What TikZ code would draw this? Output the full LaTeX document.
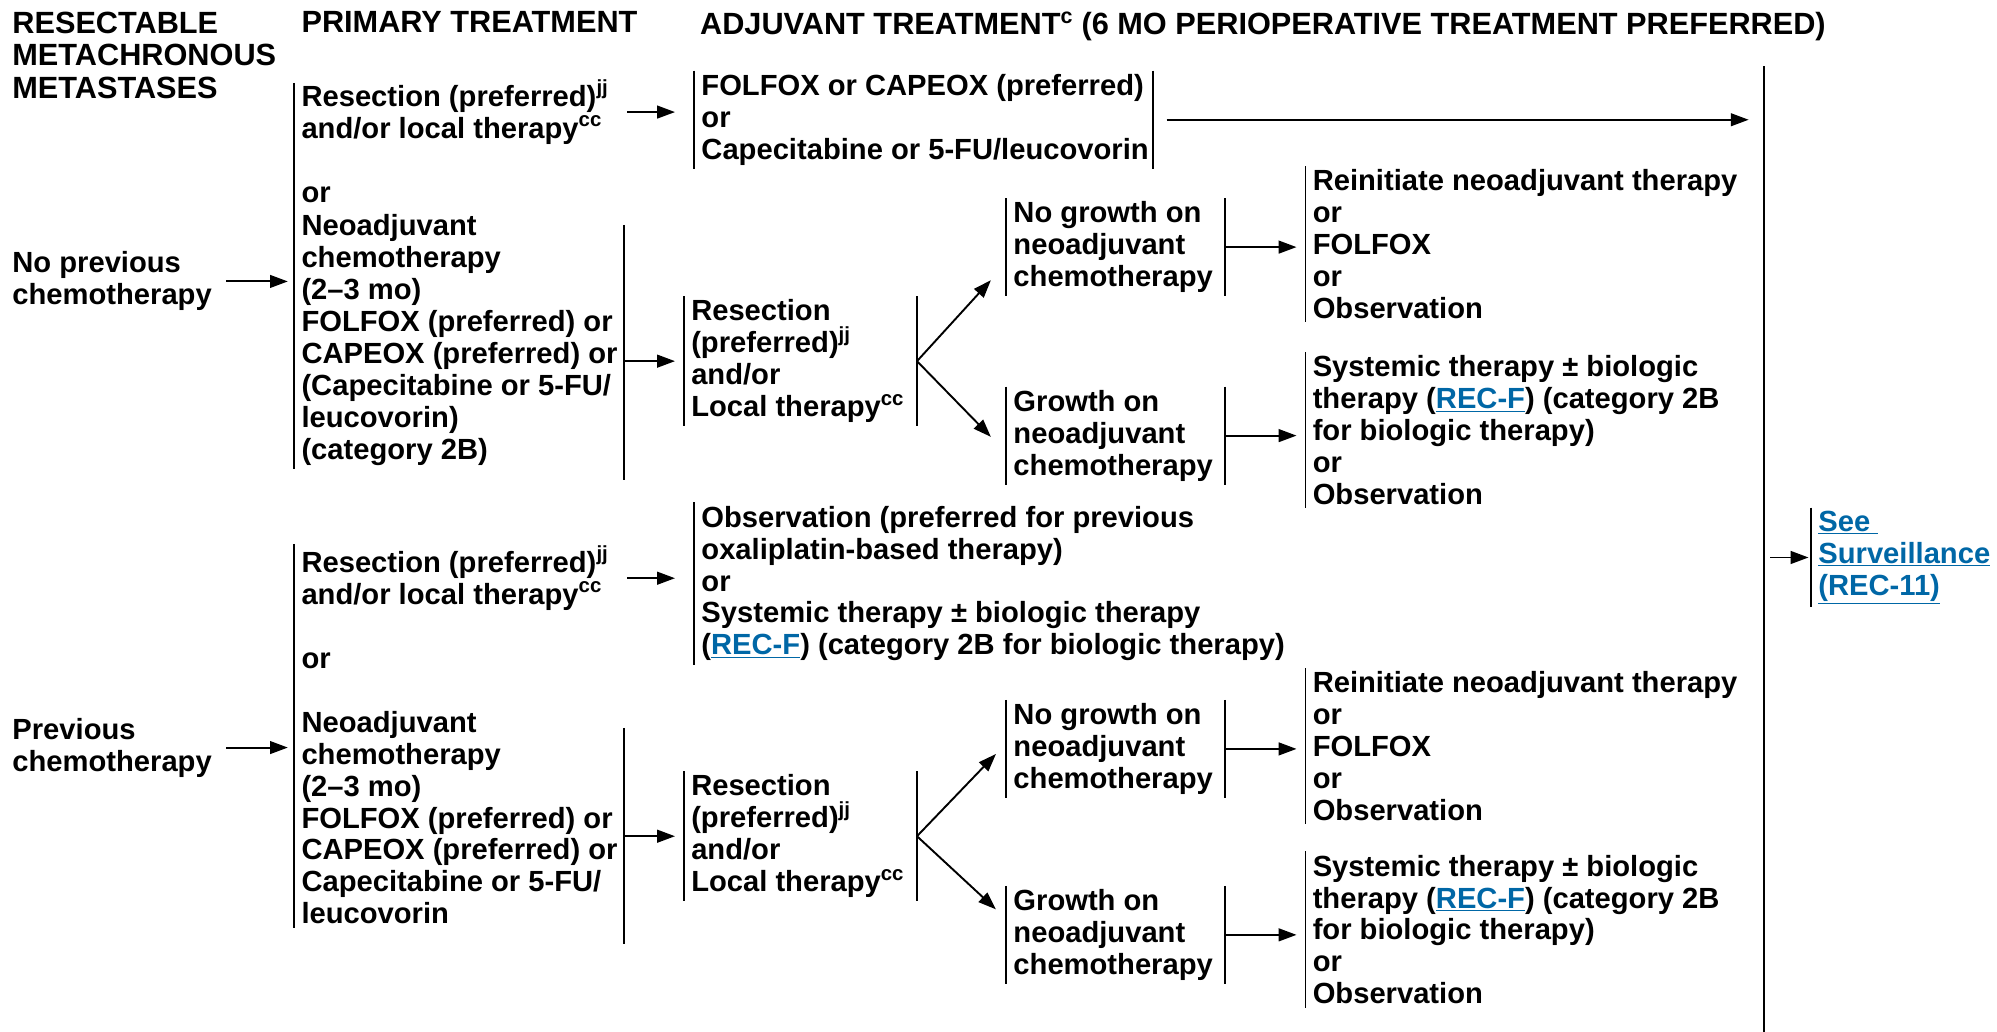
\documentclass[tikz,border=0pt]{standalone}
\usepackage{fontspec}
\setmainfont{Liberation Sans}
\usetikzlibrary{arrows.meta}
\definecolor{linkblue}{RGB}{0,103,166}
\newcommand{\lnk}[1]{\textcolor{linkblue}{\underline{#1}}}
\tikzset{
  txt/.style={anchor=north west, align=left, inner xsep=5pt, inner ysep=2pt,
    font=\fontsize{22.9pt}{25.1pt}\selectfont\bfseries},
  head/.style={txt, font=\fontsize{24.1pt}{25.6pt}\selectfont\bfseries},
  arr/.style={-{Triangle[length=14pt,width=10pt]}},
}

\begin{document}
\begin{tikzpicture}[x=1pt, y=-1pt, line width=1.5pt]
    \useasboundingbox (0,0) rectangle (1568,810);

    % column heads
    \node[head] (hRes) at (4,6.5) {RESECTABLE\\METACHRONOUS\\METASTASES};
    \node[head] (hPri) at (231,6.5) {PRIMARY TREATMENT};
    \node[head] (hAdj) at (544,6.5) {ADJUVANT TREATMENT\textsuperscript{c} (6 MO PERIOPERATIVE TREATMENT PREFERRED)};

    % x of the right-hand bars
    \coordinate (neoR) at (490,0);
    \coordinate (folR) at (905,0);
    \coordinate (resR) at (720,0);
    \coordinate (nogR) at (962,0);
    \coordinate (bigTop) at (1385,52);
    \coordinate (bigBot) at (1385,810);

    % no previous chemotherapy
    \node[txt] (noPrev) at (4,195) {No previous\\chemotherapy};
    \node[txt] (resA) at (231,60) {Resection (preferred)\textsuperscript{jj}\\and/or local therapy\textsuperscript{cc}};
    \node[txt] (orA) at (231,144) {or};
    \node[txt] (neoA) at (231,165.5) {Neoadjuvant\\chemotherapy\\(2--3 mo)\\FOLFOX (preferred) or\\CAPEOX (preferred) or\\(Capecitabine or 5-FU/\\leucovorin)\\(category 2B)};
    \node[txt] (folB) at (545,55.5) {FOLFOX or CAPEOX (preferred)\\or\\Capecitabine or 5-FU/leucovorin};
    \node[txt] (resB) at (537,232.5) {Resection\\(preferred)\textsuperscript{jj}\\and/or\\Local therapy\textsuperscript{cc}};
    \node[txt] (nogB) at (790,155.5) {No growth on\\neoadjuvant\\chemotherapy};
    \node[txt] (grB) at (790,303.5) {Growth on\\neoadjuvant\\chemotherapy};
    \node[txt] (reB) at (1025,130.5) {Reinitiate neoadjuvant therapy\\or\\FOLFOX\\or\\Observation};
    \node[txt] (syB) at (1025,276.5) {Systemic therapy ± biologic\\therapy (\lnk{REC-F}) (category 2B\\for biologic therapy)\\or\\Observation};

    % previous chemotherapy
    \node[txt] (prev) at (4,561) {Previous\\chemotherapy};
    \node[txt] (resC) at (231,426) {Resection (preferred)\textsuperscript{jj}\\and/or local therapy\textsuperscript{cc}};
    \node[txt] (orC) at (231,510) {or};
    \node[txt] (neoC) at (231,555.5) {Neoadjuvant\\chemotherapy\\(2--3 mo)\\FOLFOX (preferred) or\\CAPEOX (preferred) or\\Capecitabine or 5-FU/\\leucovorin};
    \node[txt] (obC) at (545,394.5) {Observation (preferred for previous\\oxaliplatin-based therapy)\\or\\Systemic therapy ± biologic therapy\\(\lnk{REC-F}) (category 2B for biologic therapy)};
    \node[txt] (resD) at (537,605.5) {Resection\\(preferred)\textsuperscript{jj}\\and/or\\Local therapy\textsuperscript{cc}};
    \node[txt] (nogD) at (790,549.5) {No growth on\\neoadjuvant\\chemotherapy};
    \node[txt] (grD) at (790,695.5) {Growth on\\neoadjuvant\\chemotherapy};
    \node[txt] (reD) at (1025,524.5) {Reinitiate neoadjuvant therapy\\or\\FOLFOX\\or\\Observation};
    \node[txt] (syD) at (1025,668.5) {Systemic therapy ± biologic\\therapy (\lnk{REC-F}) (category 2B\\for biologic therapy)\\or\\Observation};

    \node[txt] (seeB) at (1422,398.5) {\lnk{See\ }\\\lnk{Surveillance}\\\lnk{(REC-11)}};

    % bars
    \foreach \n in {folB,resB,nogB,grB,reB,syB,obC,resD,nogD,grD,reD,syD,seeB}
        \draw (\n.north west) -- (\n.south west);
    \coordinate (resAt) at ([yshift=-5pt]resA.north west);
    \coordinate (resCt) at ([yshift=-1pt]resC.north west);
    \draw (resAt) -- (neoA.south west);
    \draw (resCt) -- (neoC.south west);
    \draw (folB.north -| folR) -- (folB.south -| folR);
    \foreach \n in {resB,resD}
        \draw (\n.north -| resR) -- (\n.south -| resR);
    \foreach \n in {nogB,grB,nogD,grD}
        \draw (\n.north -| nogR) -- (\n.south -| nogR);
    \coordinate (neoAt) at ([yshift=-11pt]neoA.north);
    \coordinate (neoAb) at ([yshift=-9pt]neoA.south);
    \coordinate (neoCt) at ([yshift=-16pt]neoC.north);
    \coordinate (neoCb) at ([yshift=-13pt]neoC.south);
    \draw (neoAt -| neoR) -- (neoAb -| neoR);
    \draw (neoCt -| neoR) -- (neoCb -| neoR);
    \draw (bigTop) -- (bigBot);

    % fork ends
    \coordinate (fkUpB) at (778,220);
    \coordinate (fkDnB) at (778,343);
    \coordinate (fkUpD) at (782,592);
    \coordinate (fkDnD) at (782,714);

    % arrows
    \draw[arr, shorten <=5.5pt, shorten >=5pt] (noPrev.east) -- (noPrev.east -| resA.west);
    \draw[arr, shorten <=5.5pt, shorten >=5pt] (prev.east) -- (prev.east -| resC.west);
    \draw[arr, shorten <=9pt, shorten >=15pt] (resA.east) -- (resA.east -| folB.west);
    \draw[arr, shorten <=9pt, shorten >=15pt] (resC.east) -- (resC.east -| obC.west);
    \draw[arr, shorten <=11pt, shorten >=12pt] (folB.west -| folR) -- (folB.west -| bigTop);
    \draw[arr, shorten >=7pt] (resB.west -| neoR) -- (resB.west);
    \draw[arr, shorten >=7pt] (resD.west -| neoR) -- (resD.west);
    \draw[arr] (resB.west -| resR) -- (fkUpB);
    \draw[arr] (resB.west -| resR) -- (fkDnB);
    \draw[arr] (resD.west -| resR) -- (fkUpD);
    \draw[arr] (resD.west -| resR) -- (fkDnD);
    \draw[arr, shorten >=7pt] (nogB.west -| nogR) -- (nogB.west -| reB.west);
    \draw[arr, shorten >=7pt] (grB.west -| nogR) -- (grB.west -| syB.west);
    \draw[arr, shorten >=7pt] (nogD.west -| nogR) -- (nogD.west -| reD.west);
    \draw[arr, shorten >=7pt] (grD.west -| nogR) -- (grD.west -| syD.west);
    \draw[arr, shorten <=5pt, shorten >=2pt] (seeB.west -| bigTop) -- (seeB.west);
\end{tikzpicture}
\end{document}
